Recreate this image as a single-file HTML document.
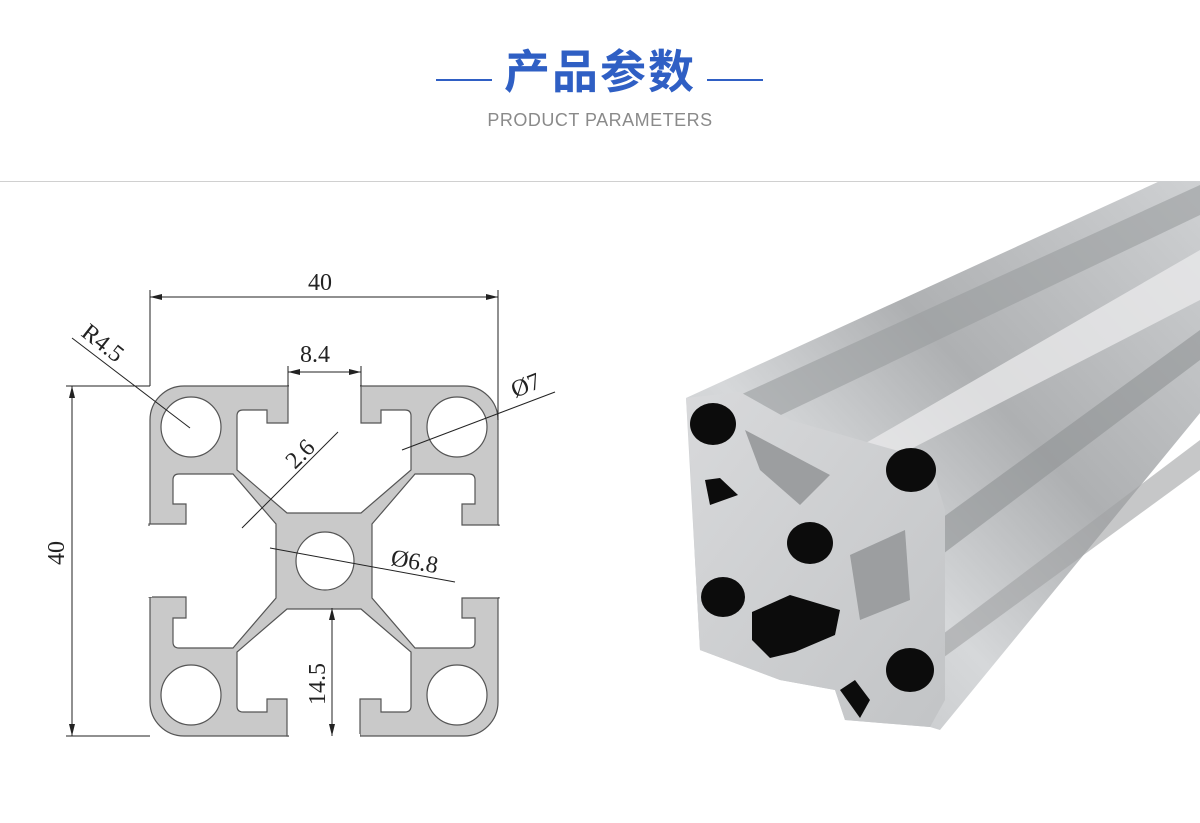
<!DOCTYPE html>
<html><head><meta charset="utf-8"><style>
body{margin:0;width:1200px;height:823px;background:#fff;overflow:hidden;position:relative;font-family:"Liberation Sans","Noto Sans CJK SC",sans-serif}
.t{position:absolute;left:0;width:1200px;text-align:center}
</style></head><body>
<div class="t" style="top:42px;font-size:46px;font-weight:bold;color:#2f5fc4;letter-spacing:2px;line-height:60px">产品参数</div>
<div style="position:absolute;left:436px;top:79px;width:56px;height:2px;background:#2f5fc4"></div>
<div style="position:absolute;left:707px;top:79px;width:56px;height:2px;background:#2f5fc4"></div>
<div class="t" style="top:110px;font-size:18px;color:#8a8a8a;letter-spacing:0.5px">PRODUCT PARAMETERS</div>
<div style="position:absolute;left:0;top:181px;width:1200px;height:1px;background:#d0d0d0"></div>

<svg width="1200" height="823" style="position:absolute;left:0;top:0" xmlns="http://www.w3.org/2000/svg">
<defs>
<path id="slot" d="M288,386 L288,423 L267,423 L267,410 L243,410 Q237,410 237,416 L237,470 L287,513 L361,513 L411,470 L411,416 Q411,410 405,410 L381,410 L381,423 L361,423 L361,386 Z"/>
<linearGradient id="bar" x1="0" y1="1" x2="1" y2="0">
<stop offset="0" stop-color="#b9bbbd"/><stop offset="0.35" stop-color="#d6d8da"/><stop offset="0.6" stop-color="#aeb0b2"/><stop offset="1" stop-color="#cfd1d3"/></linearGradient>
<linearGradient id="face" x1="0" y1="0" x2="1" y2="1">
<stop offset="0" stop-color="#d8d9db"/><stop offset="1" stop-color="#c2c4c6"/></linearGradient>
</defs>
<!-- profile -->
<rect x="150" y="386" width="348" height="350" rx="34" fill="#c9c9c9" stroke="#555" stroke-width="1.2"/>
<g fill="#fff" stroke="#555" stroke-width="1.2">
<use href="#slot"/>
<use href="#slot" transform="rotate(90 324 561)"/>
<use href="#slot" transform="rotate(180 324 561)"/>
<use href="#slot" transform="rotate(270 324 561)"/>
<circle cx="191" cy="427" r="30"/><circle cx="457" cy="427" r="30"/>
<circle cx="191" cy="695" r="30"/><circle cx="457" cy="695" r="30"/>
<circle cx="325" cy="561" r="29"/>
</g>
<g fill="#fff">
<rect x="289" y="382" width="71" height="6"/>
<rect x="289" y="734" width="71" height="6"/>
<rect x="145" y="526" width="7" height="71"/>
<rect x="496" y="526" width="7" height="71"/>
</g>
<!-- dims -->
<g stroke="#222" stroke-width="1" fill="none">
<line x1="150" y1="297" x2="498" y2="297"/><line x1="150" y1="290" x2="150" y2="386"/><line x1="498" y1="290" x2="498" y2="420"/>
<line x1="72" y1="386" x2="72" y2="736"/><line x1="66" y1="386" x2="150" y2="386"/><line x1="66" y1="736" x2="150" y2="736"/>
<line x1="288" y1="372" x2="361" y2="372"/><line x1="288" y1="366" x2="288" y2="386"/><line x1="361" y1="366" x2="361" y2="386"/>
<line x1="72" y1="338" x2="190" y2="428"/>
<line x1="555" y1="392" x2="402" y2="450"/>
<line x1="338" y1="432" x2="242" y2="528"/>
<line x1="270" y1="548" x2="455" y2="582"/>
<line x1="332" y1="608" x2="332" y2="736"/>
</g>
<g fill="#222">
<path d="M150,297 l12,-3 v6z M498,297 l-12,-3 v6z M72,386 l-3,12 h6z M72,736 l-3,-12 h6z M288,372 l12,-3 v6z M361,372 l-12,-3 v6z M332,608 l-3,12 h6z M332,736 l-3,-12 h6z"/>
</g>
<g font-family="Liberation Serif,serif" font-size="24" fill="#222">
<text x="308" y="290">40</text>
<text transform="translate(64,565) rotate(-90)">40</text>
<text x="300" y="362">8.4</text>
<text transform="translate(80,335) rotate(38)">R4.5</text>
<text transform="translate(515,398) rotate(-22)">Ø7</text>
<text transform="translate(295,470) rotate(-45)">2.6</text>
<text transform="translate(390,565) rotate(10)">Ø6.8</text>
<text transform="translate(325,705) rotate(-90)">14.5</text>
</g>
<!-- photo -->
<polygon points="686,398 1160,181 1200,181 1200,413 940,730 930,727 845,720 835,690 780,680 700,650 695,560" fill="url(#bar)"/>
<polygon points="740,395 1200,185 1200,215 760,425" fill="#9a9c9e" opacity="0.6"/>
<polygon points="845,455 1200,250 1200,300 870,470" fill="#e8e9ea" opacity="0.8"/>
<polygon points="905,545 1200,330 1200,360 915,575" fill="#909294" opacity="0.6"/>
<polygon points="935,640 1200,440 1200,470 940,660" fill="#a0a2a4" opacity="0.6"/>
<polygon points="686,398 740,392 790,420 930,460 945,510 945,700 930,727 845,720 835,690 780,680 700,650 695,560 690,460" fill="url(#face)"/>
<polygon points="745,430 830,475 800,505 760,470" fill="#9c9ea0"/>
<polygon points="850,555 905,530 910,600 860,620" fill="#9c9ea0"/>
<g fill="#0c0c0c">
<ellipse cx="713" cy="424" rx="23" ry="21"/>
<ellipse cx="911" cy="470" rx="25" ry="22"/>
<ellipse cx="810" cy="543" rx="23" ry="21"/>
<ellipse cx="723" cy="597" rx="22" ry="20"/>
<ellipse cx="910" cy="670" rx="24" ry="22"/>
<polygon points="752,612 790,595 840,610 835,635 795,652 770,658 752,640"/>
<polygon points="705,480 720,478 738,495 710,505"/>
<polygon points="840,690 855,680 870,700 860,718"/>
</g>
</svg>
</body></html>
